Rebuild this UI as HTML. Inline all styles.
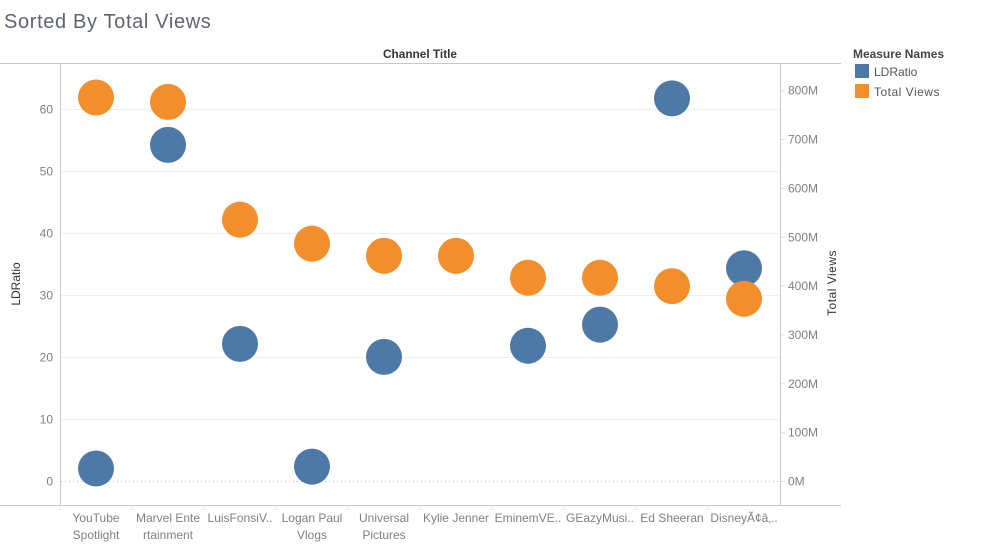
<!DOCTYPE html>
<html>
<head>
<meta charset="utf-8">
<style>
html,body{margin:0;padding:0;background:#fff;width:992px;height:546px;overflow:hidden}
svg{display:block}
text{font-family:"Liberation Sans",sans-serif}
</style>
</head>
<body>
<svg id="chart" width="992" height="546" viewBox="0 0 992 546" xmlns="http://www.w3.org/2000/svg">
<text x="4" y="28" font-size="20" fill="#5f6570" letter-spacing="0.65">Sorted By Total Views</text>
<text x="420" y="58" font-size="12" font-weight="bold" fill="#333" text-anchor="middle" textLength="74" lengthAdjust="spacingAndGlyphs">Channel Title</text>
<g id="grid"></g>
<line x1="0" x2="841" y1="63.5" y2="63.5" stroke="#c8c8c8"/>
<line x1="0" x2="841" y1="505.5" y2="505.5" stroke="#c8c8c8"/>
<line x1="60.5" x2="60.5" y1="63" y2="505" stroke="#c8c8c8"/>
<line x1="780.5" x2="780.5" y1="63" y2="505" stroke="#c8c8c8"/>
<g id="leftAxis"></g>
<g id="rightAxis"></g>
<g id="xAxis"></g>
<g id="marks"></g>
<text transform="translate(20 284) rotate(-90)" font-size="12" fill="#333" text-anchor="middle">LDRatio</text>
<text transform="translate(836 283) rotate(-90)" font-size="12" fill="#333" text-anchor="middle" letter-spacing="0.5">Total Views</text>
<g>
<text x="853" y="58" font-size="12" font-weight="bold" fill="#444" textLength="91" lengthAdjust="spacingAndGlyphs">Measure Names</text>
<rect x="855" y="64" width="14" height="14" fill="#4e79a7"/>
<text x="874" y="76" font-size="12" fill="#555">LDRatio</text>
<rect x="855" y="84" width="14" height="14" fill="#f28e2b"/>
<text x="874" y="96" font-size="12" fill="#555" letter-spacing="0.5">Total Views</text>
</g>
</svg>
<script>
const categories = [
  ["YouTube", "Spotlight"],
  ["Marvel Ente", "rtainment"],
  ["LuisFonsiV.."],
  ["Logan Paul", "Vlogs"],
  ["Universal", "Pictures"],
  ["Kylie Jenner"],
  ["EminemVE.."],
  ["GEazyMusi.."],
  ["Ed Sheeran"],
  ["DisneyÃ¢â‚.."]
];
const ldRatio = [2.1, 54.3, 22.2, 2.4, 20.1, null, 21.9, 25.3, 61.8, 34.4];
const totalViews = [786, 777, 536, 487, 462, 462, 417, 417, 400, 374];
const leftTicks = [0, 10, 20, 30, 40, 50, 60];
const rightTicks = [0, 100, 200, 300, 400, 500, 600, 700, 800];

const NS = "http://www.w3.org/2000/svg";
const yLeft = v => 481.5 - v * 6.2;
const yRight = v => 481.5 - v * 0.4885;
const xCol = i => 96 + i * 72;
function make(parent, tag, attrs, txt) {
  const el = document.createElementNS(NS, tag);
  for (const k in attrs) el.setAttribute(k, attrs[k]);
  if (txt !== undefined) el.textContent = txt;
  parent.appendChild(el);
  return el;
}
const grid = document.getElementById("grid");
const leftAxis = document.getElementById("leftAxis");
const rightAxis = document.getElementById("rightAxis");
const xAxis = document.getElementById("xAxis");
const marks = document.getElementById("marks");

leftTicks.forEach(t => {
  const y = Math.floor(yLeft(t)) + 0.5;
  const g = make(grid, "line", {x1: 61, x2: 780, y1: y, y2: y, stroke: t === 0 ? "#bbbbbb" : "#efefef", "stroke-dasharray": t === 0 ? "1 3" : "none"});
  
  
  const l = make(leftAxis, "text", {x: 53, y: yLeft(t) + 4, "font-size": 12, fill: "#808080", "text-anchor": "end"}, String(t));
  
  
});
rightTicks.forEach(t => {
  const y = yRight(t);
  const m = make(rightAxis, "line", {x1: 781, x2: 785, y1: y, y2: y, stroke: "#e0e0e0"});
  
  
  const l = make(rightAxis, "text", {x: 788, y: y + 4, "font-size": 12, fill: "#808080"}, t + "M");
  
  
});
categories.forEach((lines, i) => {
  const tickX = 60.5 + i * 72;
  const tk = make(xAxis, "line", {x1: tickX, x2: tickX, y1: 505, y2: 510, stroke: "#e6e6e6"});
  
  
  lines.forEach((s, j) => {
    const l = make(xAxis, "text", {x: xCol(i), y: 522 + j * 17, "font-size": 12, fill: "#808080", "text-anchor": "middle"}, s);
    
    
  });
});
ldRatio.forEach((v, i) => {
  if (v === null) return;
  const c = make(marks, "circle", {cx: xCol(i), cy: yLeft(v), r: 18, fill: "#4e79a7"});
  
  
});
totalViews.forEach((v, i) => {
  const c = make(marks, "circle", {cx: xCol(i), cy: yRight(v), r: 18, fill: "#f28e2b"});
  
  
});
</script>
</body>
</html>
